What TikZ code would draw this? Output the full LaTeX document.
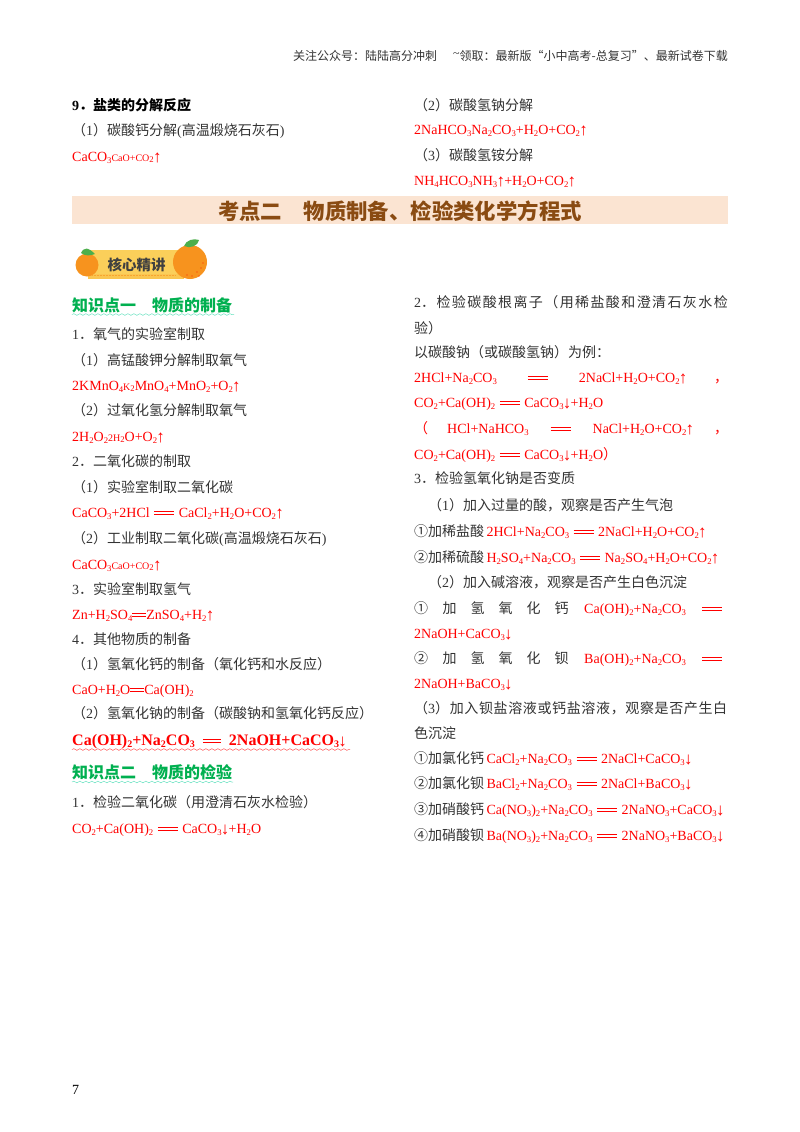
\documentclass[tikz,border=0pt]{standalone}
\usepackage{fontspec}
\setmainfont{Noto Sans CJK SC}
\newfontfamily\tm{Liberation Serif}
\usetikzlibrary{decorations.pathmorphing}
\definecolor{txt}{HTML}{333333}
\definecolor{eqred}{HTML}{FF0000}
\definecolor{green1}{HTML}{00B050}
\definecolor{band}{HTML}{FBE4D2}
\definecolor{title}{HTML}{8A4B12}
\definecolor{orange1}{HTML}{F7931E}
\definecolor{yellow1}{HTML}{FBCF5A}
\newcommand\fs[1]{\fontsize{#1}{#1}\selectfont}
\newcommand\T[1]{{\tm #1}}
\newcommand\sub[1]{\raisebox{-0.18em}{\fs{8.7}#1}}
\newcommand\subb[1]{\raisebox{-0.18em}{\fs{10}\bfseries #1}}
\newcommand\sm[1]{{\fs{10}#1}}
\newcommand\dbl[1]{\raisebox{2.6pt}{\vbox{\hrule width #1 height .6pt\vskip 1.9pt\hrule width #1 height .6pt}}}
\newcommand\ee{\hspace{4.5pt}\dbl{20pt}\hspace{4.5pt}}
\newcommand\ua{\makebox[7pt]{\raisebox{-1pt}{\fs{17}↑}}}
\newcommand\da{\makebox[7pt]{\raisebox{-1pt}{\fs{17}↓}}}
\newcommand\LS[1]{\addfontfeature{LetterSpace=#1}}
\newcounter{ln}
\newcommand\Ln[3]{\stepcounter{ln}\node[linetext] (l\theln) at (#1,#2+5) {#3};}
\newcommand\Eq[3]{\stepcounter{ln}\node[eqtext] (l\theln) at (#1,#2+5) {#3};}
\tikzset{
 linetext/.style={anchor=base west,inner sep=0pt,text=txt,font=\fs{14}},
 eqtext/.style={anchor=base west,inner sep=0pt,text=eqred,font=\fs{14}\tm},
 headtext/.style={anchor=base west,inner sep=0pt,text=green1,font=\fs{16}\bfseries},
 wave/.style={decorate,decoration={snake,amplitude=.8pt,segment length=6pt},line width=.5pt},
}
\begin{document}
\begin{tikzpicture}[x=1pt,y=-1pt]
\useasboundingbox (0,0) rectangle (800,1132);
\fill[white] (0,0) rectangle (800,1132);
% running header
\node[anchor=base east,inner sep=0pt,text=txt,font=\fs{12}] (hdr) at (728,60) {关注公众号：陆陆高分冲刺\hspace{16pt}\raisebox{2pt}{\tm\char"7E}领取：最新版“小中高考-总复习”、最新试卷下载};
% top section
\Ln{72}{105}{\bfseries\color{black}\T{\bfseries 9}．盐类的分解反应}
\Ln{72}{130}{（\T{1}）碳酸钙分解\T{(}高温煅烧石灰石\T{)}}
\Eq{72}{156}{CaCO\sub{3}\sm{CaO+CO\sub{2}}\ua}
\Ln{414}{105}{（\T{2}）碳酸氢钠分解}
\Eq{414}{129}{2NaHCO\sub{3}Na\sub{2}CO\sub{3}+H\sub{2}O+CO\sub{2}\ua}
\Ln{414}{155}{（\T{3}）碳酸氢铵分解}
\Eq{414}{180}{NH\sub{4}HCO\sub{3}NH\sub{3}\ua+H\sub{2}O+CO\sub{2}\ua}
% title band
\fill[band] (72,196) rectangle (728,224);
\node[inner sep=0pt,text=title,font=\fs{21.4}\bfseries] (ttl) at (400,211) {考点二\hspace{1em}物质制备、检验类化学方程式};
% badge
\fill[yellow1!85!orange1] (88,251) rectangle (184,279);
\fill[yellow1] (88,250) rectangle (184,274);
\draw[orange1!70!yellow1,densely dotted,line width=.5pt] (92,275.5) -- (176,275.5);
\fill[orange1] (87,265) circle (11.5);
\fill[orange1] (190,262) circle (17);
\fill[green!55!black!70] (81,253) .. controls (84,247) and (88,247) .. (95,254) .. controls (90,256) and (85,256) .. (81,253);
\fill[green!55!black!70] (184,246) .. controls (186,240) and (194,238) .. (199,240) .. controls (198,246) and (190,249) .. (184,246);
\foreach \a/\b in {197/272,201/268,192/276,187/275,203/263,199/276}{\fill[red!70!orange] (\a,\b) circle (.7);}
\node[inner sep=0pt,text=black!75,font=\fs{14.5}\bfseries] (badge) at (136.5,265) {核心精讲};
% left column
\stepcounter{ln}\node[headtext] (h1) at (72,311) {知识点一\hspace{1em}物质的制备};
\draw[wave,green1!60!cyan!60] (72,314.5) -- (234,314.5);
\Ln{72}{334}{\T{1}．氧气的实验室制取}
\Ln{72}{360}{（\T{1}）高锰酸钾分解制取氧气}
\Eq{72}{385}{2KMnO\sub{4}\sm{K\sub{2}}MnO\sub{4}+MnO\sub{2}+O\sub{2}\ua}
\Ln{72}{410}{（\T{2}）过氧化氢分解制取氧气}
\Eq{72}{436}{2H\sub{2}O\sub{2}\sm{2H\sub{2}}O+O\sub{2}\ua}
\Ln{72}{461}{\T{2}．二氧化碳的制取}
\Ln{72}{487}{（\T{1}）实验室制取二氧化碳}
\Eq{72}{512}{CaCO\sub{3}+2HCl\ee CaCl\sub{2}+H\sub{2}O+CO\sub{2}\ua}
\Ln{72}{538}{（\T{2}）工业制取二氧化碳\T{(}高温煅烧石灰石\T{)}}
\Eq{72}{564}{CaCO\sub{3}\sm{CaO+CO\sub{2}}\ua}
\Ln{72}{589}{\T{3}．实验室制取氢气}
\Eq{72}{614}{Zn+H\sub{2}SO\sub{4}\dbl{14pt}ZnSO\sub{4}+H\sub{2}\ua}
\Ln{72}{639}{\T{4}．其他物质的制备}
\Ln{72}{664}{（\T{1}）氢氧化钙的制备（氧化钙和水反应）}
\Eq{72}{689}{CaO+H\sub{2}O\dbl{14pt}Ca(OH)\sub{2}}
\Ln{72}{713}{（\T{2}）氢氧化钠的制备（碳酸钠和氢氧化钙反应）}
\stepcounter{ln}\node[eqtext,font=\fs{16}\tm\bfseries] (bold1) at (72,745) {Ca(OH)\subb{2}+Na\subb{2}CO\subb{3}\hspace{8pt}\dbl{18pt}\hspace{8pt}2NaOH+CaCO\subb{3}\da};
\draw[wave,red!70] (72,749.5) -- (350,749.5);
\stepcounter{ln}\node[headtext] (h2) at (72,778) {知识点二\hspace{1em}物质的检验};
\draw[wave,green1!60!cyan!60] (72,782) -- (233,782);
\Ln{72}{802}{\T{1}．检验二氧化碳（用澄清石灰水检验）}
\Eq{72}{828}{CO\sub{2}+Ca(OH)\sub{2}\ee CaCO\sub{3}\da+H\sub{2}O}
% right column
\Ln{414}{302}{\LS{10}\T{2}．检验碳酸根离子（用稀盐酸和澄清石灰水检}
\Ln{414}{328}{验）}
\Ln{414}{352}{以碳酸钠（或碳酸氢钠）为例：}
\Eq{414}{377}{\hbox to 314pt{2HCl+Na\sub{2}CO\sub{3}\hspace{31pt}\dbl{20pt}\hspace{31pt}2NaCl+H\sub{2}O+CO\sub{2}\ua\hfill{\rmfamily ，}}}
\Eq{414}{402}{CO\sub{2}+Ca(OH)\sub{2}\ee CaCO\sub{3}\da+H\sub{2}O}
\Eq{414}{428}{\hbox to 314pt{{\rmfamily （}\hspace{19pt}HCl+NaHCO\sub{3}\hspace{22pt}\dbl{20pt}\hspace{22pt}NaCl+H\sub{2}O+CO\sub{2}\ua\hfill{\rmfamily ，}}}
\Eq{414}{454}{CO\sub{2}+Ca(OH)\sub{2}\ee CaCO\sub{3}\da+H\sub{2}O{\rmfamily ）}}
\Ln{414}{478}{\T{3}．检验氢氧化钠是否变质}
\Ln{428}{505}{（\T{1}）加入过量的酸，观察是否产生气泡}
\Ln{414}{531}{①加稀盐酸\,{\color{eqred}\tm 2HCl+Na\sub{2}CO\sub{3}\ee 2NaCl+H\sub{2}O+CO\sub{2}\ua}}
\Ln{414}{557}{②加稀硫酸\,{\color{eqred}\tm H\sub{2}SO\sub{4}+Na\sub{2}CO\sub{3}\ee Na\sub{2}SO\sub{4}+H\sub{2}O+CO\sub{2}\ua}}
\Ln{428}{582}{（\T{2}）加入碱溶液，观察是否产生白色沉淀}
\Ln{414}{608}{①\hspace{14.5pt}加\hspace{14pt}氢\hspace{14pt}氧\hspace{14pt}化\hspace{14pt}钙\hspace{15.5pt}{\color{eqred}\tm Ca(OH)\sub{2}+Na\sub{2}CO\sub{3}\hspace{16pt}\dbl{20pt}}}
\Eq{414}{633}{2NaOH+CaCO\sub{3}\da}
\Ln{414}{658}{②\hspace{14.5pt}加\hspace{14pt}氢\hspace{14pt}氧\hspace{14pt}化\hspace{14pt}钡\hspace{15.5pt}{\color{eqred}\tm Ba(OH)\sub{2}+Na\sub{2}CO\sub{3}\hspace{16pt}\dbl{20pt}}}
\Eq{414}{683}{2NaOH+BaCO\sub{3}\da}
\Ln{414}{708}{\LS{4.5}（\T{3}）加入钡盐溶液或钙盐溶液，观察是否产生白}
\Ln{414}{733}{色沉淀}
\Ln{414}{758}{①加氯化钙\,{\color{eqred}\tm CaCl\sub{2}+Na\sub{2}CO\sub{3}\ee 2NaCl+CaCO\sub{3}\da}}
\Ln{414}{783}{②加氯化钡\,{\color{eqred}\tm BaCl\sub{2}+Na\sub{2}CO\sub{3}\ee 2NaCl+BaCO\sub{3}\da}}
\Ln{414}{809}{③加硝酸钙\,{\color{eqred}\tm Ca(NO\sub{3})\sub{2}+Na\sub{2}CO\sub{3}\ee 2NaNO\sub{3}+CaCO\sub{3}\da}}
\Ln{414}{835}{④加硝酸钡\,{\color{eqred}\tm Ba(NO\sub{3})\sub{2}+Na\sub{2}CO\sub{3}\ee 2NaNO\sub{3}+BaCO\sub{3}\da}}
% page number
\node[anchor=base west,inner sep=0pt,text=black,font=\fs{14}\tm] (pg) at (72,1094) {7};
\end{tikzpicture}
\end{document}
